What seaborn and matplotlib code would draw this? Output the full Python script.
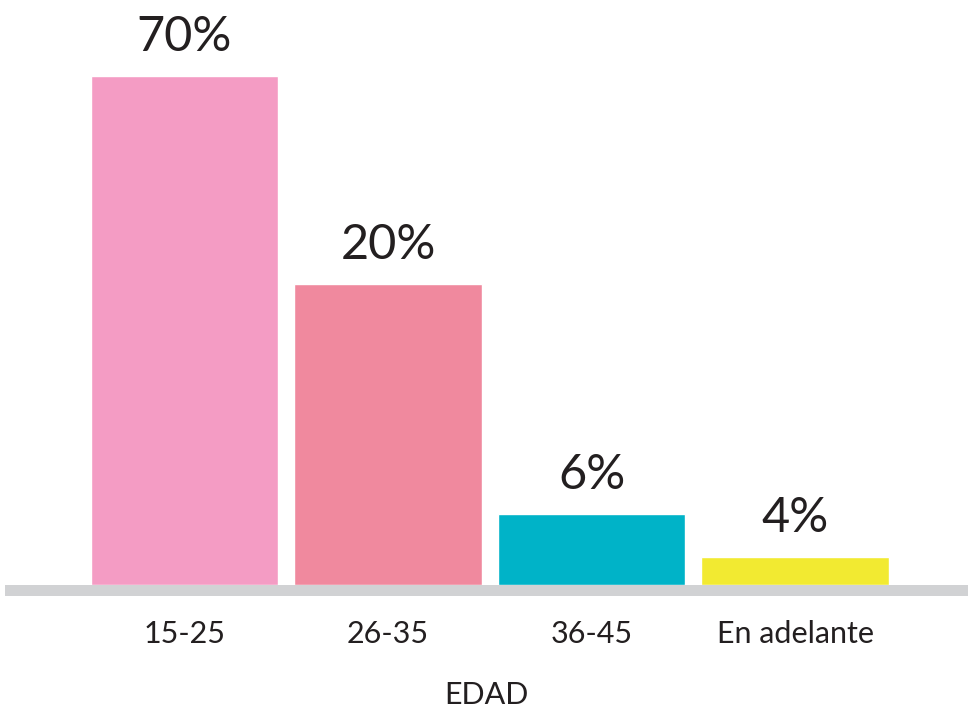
import matplotlib
matplotlib.use('Agg')
import matplotlib.pyplot as plt
import seaborn as sns
import pandas as pd

# Datos
edades = ['15-25', '26-35', '36-45', 'En adelante']
alturas = [70, 41.4, 9.8, 3.9]          # altura de barra
etiquetas = ['70%', '20%', '6%', '4%']  # texto sobre cada barra
colores = ['#F49CC4', '#F0899E', '#00B3C8', '#F2EA31']

df = pd.DataFrame({'edad': edades, 'valor': alturas})

sns.set_theme(style='white')
plt.rcParams['font.family'] = ['Lato', 'DejaVu Sans']

fig = plt.figure(figsize=(9.68, 7.11), dpi=100)
ax = fig.add_axes([5 / 968, 1 - 596 / 711, 1 - 5 / 968, 596 / 711])

sns.barplot(data=df, x='edad', y='valor', hue='edad', palette=colores,
            legend=False, width=0.92, saturation=1, ax=ax)

# Linea base gris
ax.axhspan(-1.52, 0, color='#D1D2D4', lw=0, zorder=3)

ax.set_xlim(-0.882, 3.85)
ax.set_ylim(-1.52, 80.45)

for i, (h, t) in enumerate(zip(alturas, etiquetas)):
    ax.text(i, h + 2.3, t, ha='center', va='bottom', fontsize=35, color='#231F20')

for s in ax.spines.values():
    s.set_visible(False)
ax.set_yticks([])
ax.tick_params(axis='x', length=0, pad=17, labelsize=22, labelcolor='#231F20')
ax.set_xlabel('EDAD', fontsize=22, color='#231F20', labelpad=24)
ax.set_ylabel('')

fig.savefig('out.png', dpi=100)
